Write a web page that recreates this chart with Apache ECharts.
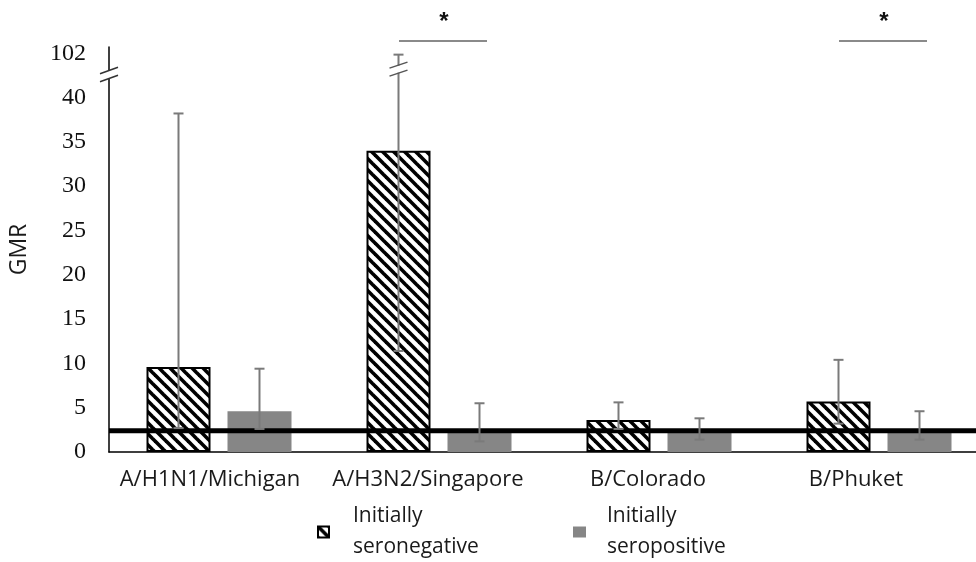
<!DOCTYPE html>
<html><head><meta charset="utf-8">
<script src="https://cdn.jsdelivr.net/npm/echarts@6/dist/echarts.min.js"></script>
<style>html,body{margin:0;padding:0;background:#fff}#c{width:976px;height:562px}</style>
</head><body><div id="c"></div>
<script>
// ---- data ----
const categories = ['A/H1N1/Michigan', 'A/H3N2/Singapore', 'B/Colorado', 'B/Phuket'];
const seriesNames = ['Initially seronegative', 'Initially seropositive'];
const seronegGMR  = [9.6, 34.0, 3.6, 5.7];
const seronegLow  = [2.7, 11.4, 2.6, 3.2];
const seronegHigh = [38.2, 100, 5.6, 10.4];
const seroposGMR  = [4.6, 2.2, 2.2, 2.2];
const seroposLow  = [2.6, 1.2, 1.4, 1.4];
const seroposHigh = [9.4, 5.5, 3.8, 4.6];
const thresholdValue = 2.4;
const sigCategories = [1, 3];
const sigLabels = ['*', '*'];
const yTickLabels = ['0', '5', '10', '15', '20', '25', '30', '35', '40', '102'];
const breakFrom = 40, breakTo = 102, breakAxisPos = 45;
const labelShift = [-9, -11, -11, -23];

function toAxis(v) {
  return v <= breakFrom ? v : breakFrom + (v - breakFrom) * (breakAxisPos - breakFrom) / (breakTo - breakFrom);
}

// hatch pattern
function makeHatch() {
  const s = 11;
  const cv = document.createElement('canvas');
  cv.width = s; cv.height = s;
  const ctx = cv.getContext('2d');
  ctx.fillStyle = '#fff'; ctx.fillRect(0, 0, s, s);
  ctx.strokeStyle = '#000'; ctx.lineWidth = 3.6;
  for (let k = -1; k <= 1; k++) {
    ctx.beginPath(); ctx.moveTo(k * s - 2, -2); ctx.lineTo(k * s + s + 2, s + 2); ctx.stroke();
  }
  return cv;
}
const hatch = { image: makeHatch(), repeat: 'repeat' };
const grey = '#868686';
const errColor = '#7a7a7a';
const BAR_W = 64, BAR_GAP = 17;
const half = (BAR_W + BAR_GAP) / 2;

const errData = [];
categories.forEach((c, i) => {
  errData.push([i, toAxis(seronegLow[i]), toAxis(seronegHigh[i]), -1, seronegHigh[i] > breakFrom ? 1 : 0]);
  errData.push([i, toAxis(seroposLow[i]), toAxis(seroposHigh[i]), 1, seroposHigh[i] > breakFrom ? 1 : 0]);
});

function slash(x, y, w, h) {
  return { type: 'line', shape: { x1: x - w, y1: y + h, x2: x + w, y2: y - h }, style: { stroke: '#555', lineWidth: 1.5 } };
}

const legendText = { fontFamily: 'Open Sans', fontSize: 21, lineHeight: 31, color: '#1a1a1a' };

const chart = echarts.init(document.getElementById('c'), null, { renderer: 'canvas' });
chart.setOption({
  animation: false,
  backgroundColor: '#fff',
  grid: { left: 109, top: 47, bottom: 110, width: 880, containLabel: false, outerBoundsMode: 'none' },
  xAxis: {
    type: 'category', data: categories,
    axisLine: { lineStyle: { color: '#000', width: 1.5 } },
    axisTick: { show: false },
    axisLabel: {
      interval: 0, margin: 17, color: '#1a1a1a', fontFamily: 'Open Sans', fontSize: 22,
      formatter: (v, i) => '{c' + i + '|' + v + '}',
      rich: Object.fromEntries(labelShift.map((d, i) => ['c' + i, { fontFamily: 'Open Sans', fontSize: 22, color: '#1a1a1a', padding: [0, -2 * d, 0, 0] }]))
    }
  },
  yAxis: {
    type: 'value', min: 0, max: 45.7, interval: 5,
    name: 'GMR', nameLocation: 'middle', nameGap: 78, nameRotate: 90,
    nameTextStyle: { fontFamily: 'Open Sans', fontSize: 23, color: '#1a1a1a' },
    axisLine: { show: true, lineStyle: { color: '#000', width: 1.5 } },
    axisTick: { show: false },
    splitLine: { show: false },
    axisLabel: {
      margin: 23, fontFamily: 'Liberation Serif', fontSize: 24, color: '#111',
      formatter: v => (Math.abs(v / 5 - Math.round(v / 5)) < 1e-6 && yTickLabels[Math.round(v / 5)] !== undefined) ? yTickLabels[Math.round(v / 5)] : ''
    }
  },
  legend: [
    {
      data: [seriesNames[0]], left: 317, top: 501, padding: 0, itemWidth: 11, itemHeight: 11, icon: 'rect',
      formatter: n => n.replace(' ', '\n'),
      textStyle: Object.assign({ padding: [0, 0, 0, 19] }, legendText)
    },
    {
      data: [seriesNames[1]], left: 573, top: 501, padding: 0, itemWidth: 13, itemHeight: 11, icon: 'rect',
      formatter: n => n.replace(' ', '\n'),
      textStyle: Object.assign({ padding: [0, 0, 0, 16] }, legendText)
    }
  ],
  series: [
    {
      name: seriesNames[0], type: 'bar', data: seronegGMR, barWidth: BAR_W, barGap: (BAR_GAP / BAR_W * 100) + '%',
      itemStyle: { color: hatch, borderColor: '#000', borderWidth: 2 }
    },
    {
      name: seriesNames[1], type: 'bar', data: seroposGMR, barWidth: BAR_W,
      itemStyle: { color: grey }
    },
    {
      type: 'custom', z: 4, clip: false, silent: true,
      data: [[0, thresholdValue]],
      renderItem: (params, api) => {
        const cs = params.coordSys;
        const y = api.coord([0, api.value(1)])[1];
        return { type: 'line', shape: { x1: cs.x, y1: y, x2: cs.x + cs.width, y2: y }, style: { stroke: '#000', lineWidth: 5 } };
      }
    },
    {
      type: 'custom', z: 5, clip: false, silent: true,
      data: errData,
      renderItem: (params, api) => {
        const c = api.value(0);
        const lo = api.coord([c, api.value(1)]);
        const hi = api.coord([c, api.value(2)]);
        const x = lo[0] + api.value(3) * half;
        const st = { stroke: errColor, lineWidth: 2 };
        const ch = [
          { type: 'line', shape: { x1: x, y1: lo[1], x2: x, y2: hi[1] }, style: st },
          { type: 'line', shape: { x1: x - 5, y1: hi[1], x2: x + 5, y2: hi[1] }, style: st },
          { type: 'line', shape: { x1: x - 5, y1: lo[1], x2: x + 5, y2: lo[1] }, style: st }
        ];
        if (api.value(4)) {
          const yb = api.coord([c, 43.2])[1];
          ch.push({ type: 'rect', shape: { x: x - 2, y: yb - 3.5, width: 4, height: 7 }, style: { fill: '#fff' } });
          ch.push(slash(x, yb - 4, 9, 3));
          ch.push(slash(x, yb + 4, 9, 3));
        }
        return { type: 'group', children: ch };
      }
    },
    {
      type: 'custom', z: 5, clip: false, silent: true,
      data: [[0, 42.6]],
      renderItem: (params, api) => {
        const x = params.coordSys.x;
        const yb = api.coord([0, api.value(1)])[1];
        return { type: 'group', children: [
          { type: 'rect', shape: { x: x - 2, y: yb - 4, width: 4, height: 8 }, style: { fill: '#fff' } },
          { type: 'line', shape: { x1: x - 9, y1: yb - 0.7, x2: x + 9, y2: yb - 7.3 }, style: { stroke: '#333', lineWidth: 1.5 } },
          { type: 'line', shape: { x1: x - 9, y1: yb + 7.3, x2: x + 9, y2: yb + 0.7 }, style: { stroke: '#333', lineWidth: 1.5 } }
        ] };
      }
    },
    {
      type: 'custom', z: 5, clip: false, silent: true,
      data: sigCategories.map((c, i) => [c, 0, i]),
      renderItem: (params, api) => {
        const p = api.coord([api.value(0), 0]);
        const y = params.coordSys.y - 6;
        return { type: 'group', children: [
          { type: 'line', shape: { x1: p[0] - 40, y1: y, x2: p[0] + 48, y2: y }, style: { stroke: '#8a8a8a', lineWidth: 2 } },
          { type: 'text', style: { text: sigLabels[api.value(2)], x: p[0] + 5, y: y - 19, align: 'center', verticalAlign: 'middle', font: 'bold 24px "Liberation Sans"', fill: '#111' } }
        ] };
      }
    }
  ]
});
</script></body></html>
